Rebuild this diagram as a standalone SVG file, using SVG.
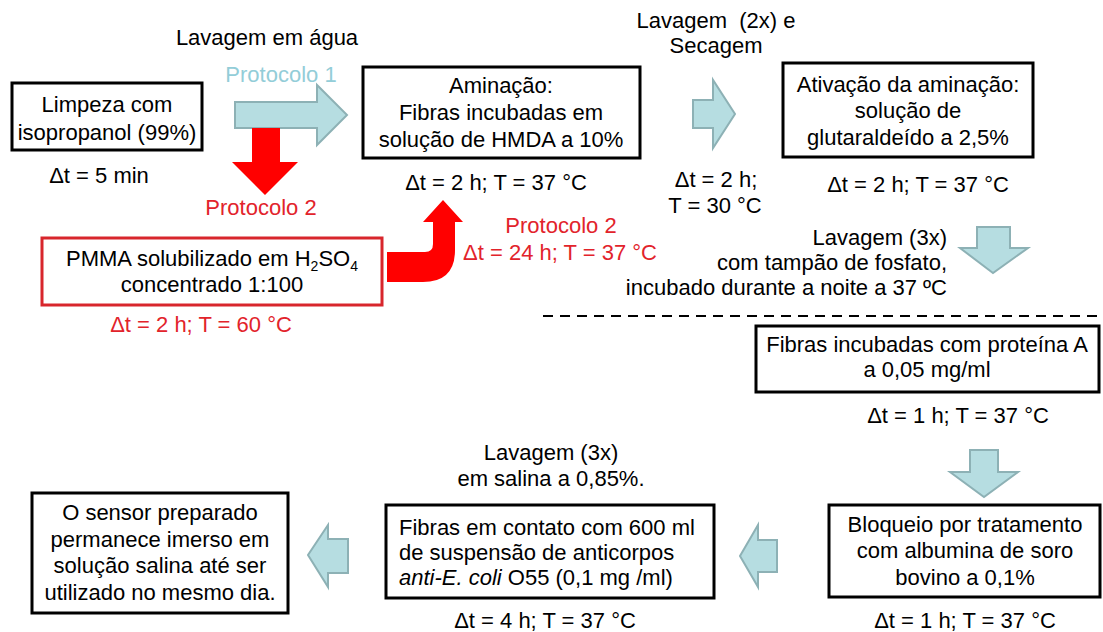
<svg xmlns="http://www.w3.org/2000/svg" width="1103" height="632" viewBox="0 0 1103 632">
<style>
text{font-family:"Liberation Sans",Arial,sans-serif;font-size:22px;fill:#000}
.c{text-anchor:middle}
.r{text-anchor:end}
.red{fill:#E2232B}
.p1{fill:#93CDD8}
.box{fill:#fff;stroke:#000;stroke-width:3}
.rbox{fill:#fff;stroke:#D8262C;stroke-width:3}
.ba{fill:#B6DDE1;stroke:#8DB1B5;stroke-width:2;stroke-linejoin:miter}
.ra{fill:#FF0000;stroke:none}
.sub{font-size:14px}
</style>
<rect width="1103" height="632" fill="#fff"/>

<g id="connectors">
<path class="ba" d="M235,102 L317,102 L317,85 L347,115 L317,145 L317,128 L235,128 Z"/>
<path class="ra" d="M252,128 L280,128 L280,162 L298,162 L265,195 L232,162 L252,162 Z"/>
<path class="ra" d="M387,252 L425,252 Q433,252 433,244 L433,222 L423,222 L443,200 L463,222 L455,222 L455,250 Q455,282 423,282 L387,282 Z"/>
<path class="ba" d="M693,100 L713,100 L713,80 L735,114 L713,148 L713,128 L693,128 Z"/>
<path class="ba" d="M977,227 L1010,227 L1010,248 L1028,248 L993,273 L960,248 L977,248 Z"/>
<path class="ba" d="M970,450 L998,450 L998,472 L1018,472 L984,497 L950,472 L970,472 Z"/>
<path class="ba" d="M777,540 L758,540 L758,525 L740,556 L758,587 L758,572 L777,572 Z"/>
<path class="ba" d="M348,539 L328,539 L328,525 L308,555 L328,587 L328,573 L348,573 Z"/>
<line x1="543" y1="316" x2="1100" y2="316" stroke="#000" stroke-width="2" stroke-dasharray="10,7"/>
</g>

<g id="labels">
<text class="c" x="267" y="45">Lavagem em água</text>
<text class="c p1" x="281" y="82">Protocolo 1</text>
<text class="c red" x="261" y="215">Protocolo 2</text>
<text class="c red" x="561" y="233">Protocolo 2</text>
<text class="c red" x="560" y="260">Δt = 24 h; T = 37 °C</text>
<text class="c" x="716" y="28" xml:space="preserve">Lavagem  (2x) e</text>
<text class="c" x="716" y="53">Secagem</text>
<text class="c" x="716" y="187">Δt = 2 h;</text>
<text class="c" x="715" y="213">T = 30 °C</text>
<text class="r" x="947" y="245">Lavagem (3x)</text>
<text class="r" x="947" y="270">com tampão de fosfato,</text>
<text class="r" x="947" y="295">incubado durante a noite a 37 ºC</text>
<text class="c" x="551" y="460">Lavagem (3x)</text>
<text class="c" x="551" y="486">em salina a 0,85%.</text>
</g>

<g id="limpeza">
<rect class="box" x="12" y="83" width="190" height="67"/>
<text class="c" x="107" y="112">Limpeza com</text>
<text class="c" x="107" y="140">isopropanol (99%)</text>
<text class="c" x="99" y="183">Δt = 5 min</text>
</g>

<g id="pmma">
<rect class="rbox" x="42" y="238" width="340" height="67"/>
<text class="c" x="212" y="266">PMMA solubilizado em H<tspan class="sub" dy="5">2</tspan><tspan dy="-5">SO</tspan><tspan class="sub" dy="5">4</tspan></text>
<text class="c" x="212" y="292">concentrado 1:100</text>
<text class="c red" x="201" y="332">Δt = 2 h; T = 60 °C</text>
</g>

<g id="aminacao">
<rect class="box" x="363" y="67" width="277" height="91"/>
<text class="c" x="501" y="93">Aminação:</text>
<text class="c" x="501" y="120">Fibras incubadas em</text>
<text class="c" x="501" y="147">solução de HMDA a 10%</text>
<text class="c" x="496" y="190">Δt = 2 h; T = 37 °C</text>
</g>

<g id="ativacao">
<rect class="box" x="783" y="63" width="250" height="94"/>
<text class="c" x="908" y="92">Ativação da aminação:</text>
<text class="c" x="908" y="118">solução de</text>
<text class="c" x="908" y="145">glutaraldeído a 2,5%</text>
<text class="c" x="918" y="192">Δt = 2 h; T = 37 °C</text>
</g>

<g id="proteina">
<rect class="box" x="756" y="326" width="343" height="66"/>
<text class="c" x="927" y="352">Fibras incubadas com proteína A</text>
<text class="c" x="927" y="377">a 0,05 mg/ml</text>
<text class="c" x="958" y="423">Δt = 1 h; T = 37 °C</text>
</g>

<g id="bloqueio">
<rect class="box" x="829" y="505" width="271" height="92"/>
<text class="c" x="965" y="532">Bloqueio por tratamento</text>
<text class="c" x="965" y="558">com albumina de soro</text>
<text class="c" x="965" y="585">bovino a 0,1%</text>
<text class="c" x="965" y="628">Δt = 1 h; T = 37 °C</text>
</g>

<g id="anticorpos">
<rect class="box" x="386" y="505" width="328" height="93"/>
<text x="399" y="535">Fibras em contato com 600 ml</text>
<text x="399" y="560">de suspensão de anticorpos</text>
<text x="399" y="585"><tspan font-style="italic">anti-E. coli</tspan> O55 (0,1 mg /ml)</text>
<text class="c" x="545" y="628">Δt = 4 h; T = 37 °C</text>
</g>

<g id="sensor">
<rect class="box" x="32" y="493" width="256" height="120"/>
<text class="c" x="160" y="520">O sensor preparado</text>
<text class="c" x="160" y="547">permanece imerso em</text>
<text class="c" x="160" y="573">solução salina até ser</text>
<text class="c" x="160" y="600">utilizado no mesmo dia.</text>
</g>
</svg>
